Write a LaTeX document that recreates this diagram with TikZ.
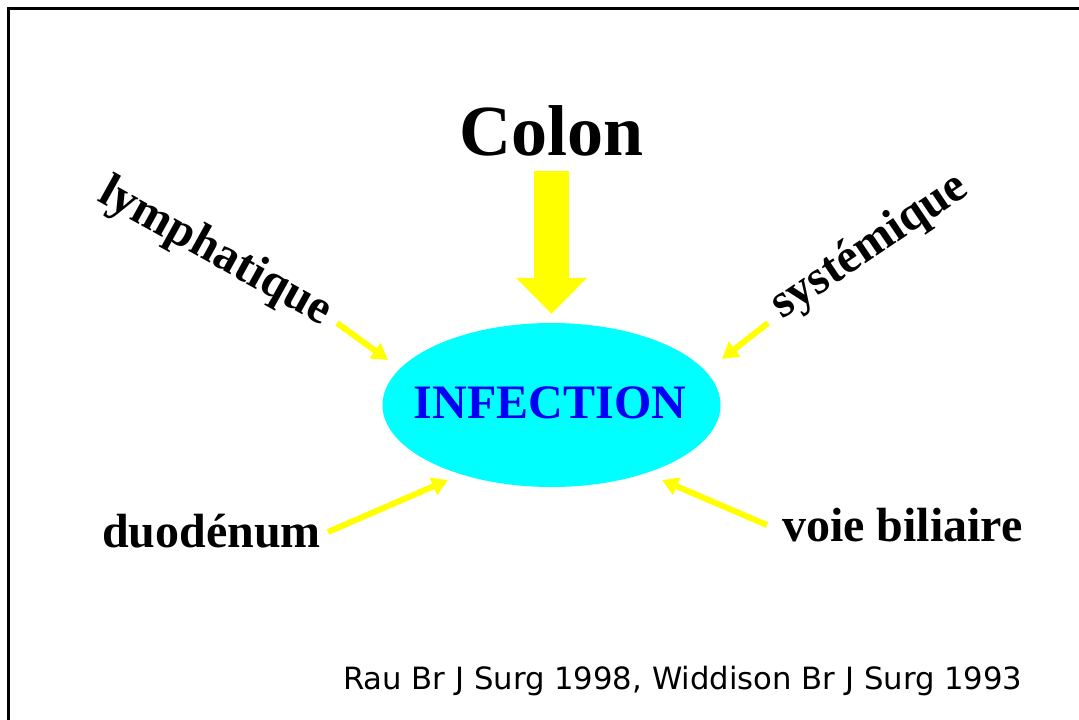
\documentclass[tikz,border=0pt]{standalone}
\usepackage{fontspec}
\setmainfont{Liberation Serif}
\newfontfamily\citefont{DejaVu Sans}
\usetikzlibrary{arrows.meta,shapes.geometric}
\definecolor{ylw}{RGB}{255,255,0}
\definecolor{cyn}{RGB}{0,255,255}
\definecolor{blu}{RGB}{0,0,245}
\tikzset{
  lbl/.style={inner sep=0pt, font=\fontsize{48}{52}\selectfont\bfseries},
  thinarrow/.style={draw=ylw, line width=6pt, -{Triangle[length=16pt,width=18pt]}},
  bigarrow/.style={draw=ylw, line width=35pt, -{Triangle[length=36pt,width=69pt]}},
}
\begin{document}
\begin{tikzpicture}[x=1pt,y=-1pt]
\useasboundingbox (0,0) rectangle (1079,720);
\draw[line width=3pt] (8,722) -- (8,8) -- (1081,8);
% centre
\node[ellipse, fill=cyn, minimum width=338pt, minimum height=164pt, inner sep=0pt] (inf) at (551.5,405) {};
\node[inner sep=0pt, text=blu, font=\fontsize{48}{52}\selectfont\bfseries] (inftxt) at (550,403) {INFECTION};
% labels
\node[inner sep=0pt, anchor=base, font=\fontsize{72}{80}\selectfont\bfseries] (colon) at (551.5,155) {Colon};
\node[lbl, rotate=-29] (lymph) at (215,253) {lymphatique};
\node[lbl, rotate=34] (syst) at (870,247) {systémique};
\node[lbl, anchor=base west] (duod) at (102,547) {duodénum};
\node[lbl, anchor=base west] (voie) at (782,541) {voie biliaire};
\node[inner sep=0pt, anchor=base west, font=\citefont\fontsize{30.7}{34}\selectfont] (cite) at (343,689) {Rau Br J Surg 1998, Widdison Br J Surg 1993};
% arrow ends
\coordinate (lymphS) at (337,323);
\coordinate (lymphE) at (388,360);
\coordinate (systS) at (768,323);
\coordinate (systE) at (722,359);
\coordinate (duodS) at (328,532);
\coordinate (duodE) at (448,480);
\coordinate (voieS) at (767,525);
\coordinate (voieE) at (662,480);
% arrows
\draw[bigarrow, shorten <=15pt, shorten >=9pt] (colon.south) -- (inf.north);
\draw[thinarrow] (lymphS) -- (lymphE);
\draw[thinarrow] (systS) -- (systE);
\draw[thinarrow] (duodS) -- (duodE);
\draw[thinarrow] (voieS) -- (voieE);
\end{tikzpicture}
\end{document}
